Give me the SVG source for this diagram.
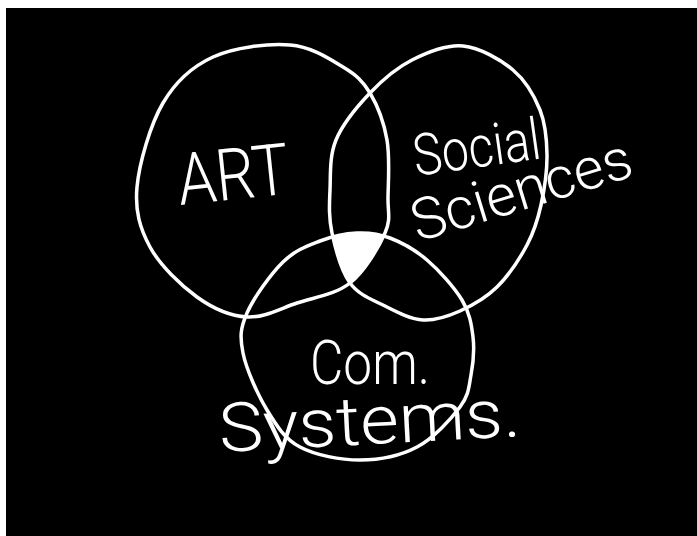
<svg xmlns="http://www.w3.org/2000/svg" width="697" height="536" viewBox="0 0 697 536">
<style>
.ring{fill:none;stroke:#fff;stroke-width:3.5;stroke-linecap:round;stroke-linejoin:round}
.lbl{fill:#fff;font-family:Roboto,"Liberation Sans",sans-serif;font-weight:300}
</style>
<defs>
<path id="pL" d="M290,45 C311.7,46.7 329.7,59 343,67 C356.3,75 362.7,80.8 370,93 C377.3,105.2 384,122.7 387,140 C390,157.3 388.3,181.5 388,197 C387.7,212.5 391.3,218.7 385,233 C378.7,247.3 364.7,271.3 350,283 C335.3,294.7 314.2,297.3 297,303 C279.8,308.7 263.7,318 247,317 C230.3,316 213.2,308.7 197,297 C180.8,285.3 160,265.3 150,247 C140,228.7 134.8,211 137,187 C139.2,163 150.3,124.7 163,103 C175.7,81.3 191.8,66.7 213,57 C234.2,47.3 268.3,43.3 290,45 Z"/>
<path id="pR" d="M463,46 C479.8,47.7 500.2,59.3 513,70 C525.8,80.7 534.3,95.8 540,110 C545.7,124.2 546.8,139.2 547,155 C547.2,170.8 544.3,190 541,205 C537.7,220 534.3,231.3 527,245 C519.7,258.7 508.2,276 497,287 C485.8,298 472.3,305.5 460,311 C447.7,316.5 435.5,320.8 423,320 C410.5,319.2 397.2,312.2 385,306 C372.8,299.8 358.8,295.2 350,283 C341.2,270.8 335.3,248.5 332,233 C328.7,217.5 329.3,205.5 330,190 C330.7,174.5 329.3,156.2 336,140 C342.7,123.8 357.3,106.3 370,93 C382.7,79.7 396.5,67.8 412,60 C427.5,52.2 446.2,44.3 463,46 Z"/>
<path id="pB" d="M357,233 C368.7,232.5 378.3,233.5 390,238 C401.7,242.5 415,249.7 427,260 C439,270.3 454.3,287.2 462,300 C469.7,312.8 471.5,324.5 473,337 C474.5,349.5 473.2,363.3 471,375 C468.8,386.7 469,395 460,407 C451,419 433.7,438.2 417,447 C400.3,455.8 379.5,460 360,460 C340.5,460 315.5,455.3 300,447 C284.5,438.7 276.5,425.7 267,410 C257.5,394.3 246.3,369.2 243,353 C239.7,336.8 240.3,328.2 247,313 C253.7,297.8 270.8,274 283,262 C295.2,250 307.7,245.8 320,241 C332.3,236.2 345.3,233.5 357,233 Z"/>
<clipPath id="cL"><use href="#pL"/></clipPath>
<clipPath id="cR"><use href="#pR"/></clipPath>
</defs>
<rect x="0" y="0" width="697" height="536" fill="#fff"/>
<rect x="6" y="8" width="691" height="528" fill="#000"/>
<g id="center">
<g clip-path="url(#cR)"><g clip-path="url(#cL)"><use href="#pB" fill="#fff"/></g></g>
</g>
<g id="connectors"></g>
<g id="art"><use href="#pL" class="ring"/><text class="lbl" x="180" y="205" font-size="72" textLength="112" lengthAdjust="spacingAndGlyphs" transform="rotate(-6 180 205)">ART</text></g>
<g id="social"><use href="#pR" class="ring"/>
<text class="lbl" x="416" y="176" font-size="58" textLength="128" lengthAdjust="spacingAndGlyphs" transform="rotate(-8 416 176)">Social</text>
<text class="lbl" x="418" y="242" font-size="58" textLength="228" lengthAdjust="spacingAndGlyphs" transform="rotate(-17 418 242)">Sciences</text>
</g>
<g id="com"><use href="#pB" class="ring"/>
<text class="lbl" x="310" y="384" font-size="62" textLength="120" lengthAdjust="spacingAndGlyphs">Com.</text>
<text class="lbl" x="220" y="452" font-size="68" textLength="302" lengthAdjust="spacingAndGlyphs" transform="rotate(-3 220 452)">Systems.</text>
</g>
</svg>
